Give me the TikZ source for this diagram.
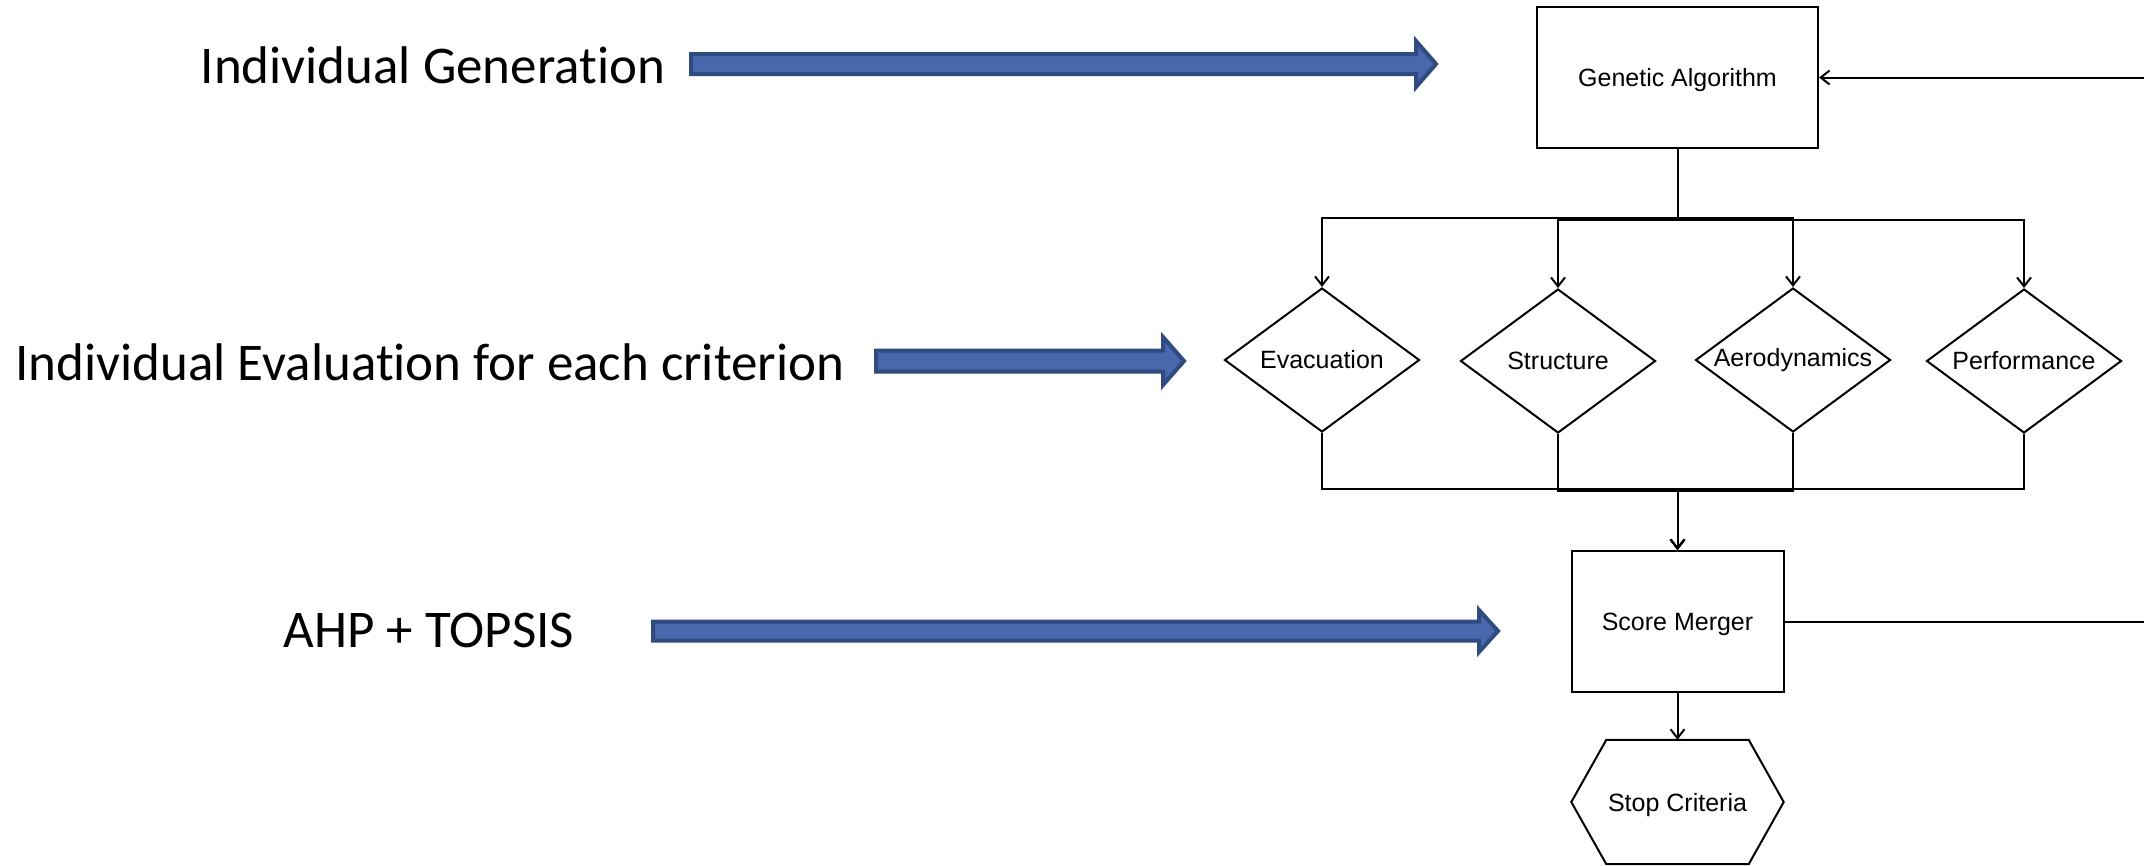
\documentclass[tikz,border=0pt]{standalone}
\usepackage{fontspec}
\setmainfont{Liberation Sans}
\newfontfamily\calfont[Ligatures=NoCommon]{Carlito}
\usetikzlibrary{arrows.meta,shapes.geometric,calc}
\definecolor{blueF}{RGB}{72,103,172}
\definecolor{blueD}{RGB}{47,75,128}
\begin{document}
\begin{tikzpicture}[x=1pt,y=-1pt,
  dfont/.style={font=\fontsize{25}{30}\selectfont},
  box/.style={draw, line width=2pt, inner sep=0pt, dfont, text height=18pt, text depth=0pt},
  diam/.style={diamond, draw, line width=2pt, inner sep=0pt, minimum width=195pt, minimum height=144pt},
  conn/.style={line width=2pt, -{Straight Barb[length=9pt,width=14pt,line width=2pt]}},
  blk/.style={fill=blueF, draw=blueD, line width=4pt, line join=miter},
  lefttxt/.style={font=\calfont\fontsize{53}{60}\selectfont, inner sep=0pt}
]
\useasboundingbox (0,0) rectangle (2144,865);
\clip (0,0) rectangle (2144,865);

% left labels
\node[lefttxt, anchor=base] (t1) at (433,83) {Individual Generation};
\node[lefttxt, anchor=base] (t2) at (430,380) {Individual Evaluation for each criterion};
\node[lefttxt, anchor=base] (t3) at (429,647) {AHP + TOPSIS};

% block arrows
\draw[blk] (691,54) -- (1416,54) -- (1416,41) -- (1436,64) -- (1416,87) -- (1416,74) -- (691,74) -- cycle;
\draw[blk] (876,350.5) -- (1163,350.5) -- (1163,337) -- (1184,361) -- (1163,385) -- (1163,371.5) -- (876,371.5) -- cycle;
\draw[blk] (653,621.5) -- (1479,621.5) -- (1479,610) -- (1498,631) -- (1479,652) -- (1479,640.5) -- (653,640.5) -- cycle;

% nodes
\node[box, minimum width=281pt, minimum height=141pt] (ga) at (1677.5,77.5) {Genetic Algorithm};
\node[diam, label={[dfont]center:Evacuation}] (evac) at (1322,360) {};
\node[diam, label={[dfont]center:Structure}] (struct) at (1558,361) {};
\node[diam, label={[dfont]center:Aerodynamics}] (aero) at (1793,360) {};
\node[diam, label={[dfont]center:Performance}] (perf) at (2024,361) {};
\node[box, minimum width=212pt, minimum height=141pt] (sm) at (1677.5,621.5) {Score Merger};
\node[rectangle, inner sep=0pt, minimum width=212pt, minimum height=124pt, dfont, text height=18pt, text depth=0pt] (sc) at (1677.5,802) {Stop Criteria};
\draw[line width=2pt, line join=miter] (sc.west) -- ($(sc.north west)+(35,0)$) -- ($(sc.north east)+(-35,0)$) -- (sc.east) -- ($(sc.south east)+(-35,0)$) -- ($(sc.south west)+(35,0)$) -- cycle;

% bus coordinates
\coordinate (busT1) at (1677.5,218);
\coordinate (busT2) at (1677.5,220);
\coordinate (busB1) at (1677.5,489);
\coordinate (busB2) at (1677.5,491);
\coordinate (loop) at (2200,621.5);

% connectors top
\draw[conn] (ga.south) -- (busT1) -| (evac.north);
\draw[conn] (ga.south) -- (busT2) -| (struct.north);
\draw[conn] (ga.south) -- (busT1) -| (aero.north);
\draw[conn] (ga.south) -- (busT2) -| (perf.north);

% connectors bottom
\draw[conn] (evac.south) |- (busB1) -- (sm.north);
\draw[conn] (struct.south) |- (busB2) -- (sm.north);
\draw[conn] (aero.south) |- (busB2) -- (sm.north);
\draw[conn] (perf.south) |- (busB1) -- (sm.north);

\draw[conn] (sm.south) -- (sc.north);
\draw[conn] (sm.east) -- (loop) |- (ga.east);
\end{tikzpicture}
\end{document}
